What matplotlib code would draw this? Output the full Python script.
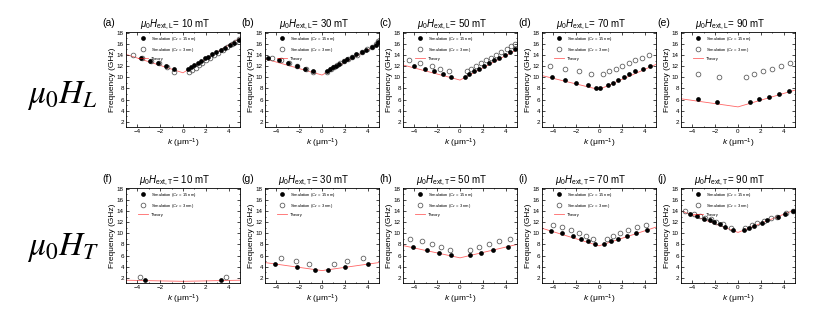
import numpy as np
import matplotlib
matplotlib.use('Agg')
import matplotlib.pyplot as plt
from matplotlib.ticker import MultipleLocator

plt.rcParams['font.family'] = ['Liberation Sans', 'DejaVu Sans']
plt.rcParams['mathtext.fontset'] = 'custom'
plt.rcParams['mathtext.rm'] = 'Liberation Sans'
plt.rcParams['mathtext.it'] = 'Liberation Sans:italic'

# ---- data (k in 1/um, f in GHz) ----
labels = ['(a)', '(b)', '(c)', '(d)', '(e)', '(f)', '(g)', '(h)', '(i)', '(j)']
fields = [10, 30, 50, 70, 90]

# (a) L, 10 mT
ka_15 = [-3.7, -2.9, -2.2, -1.5, -0.8, 0.4, 0.7, 1.0, 1.3, 1.6, 1.9, 2.2, 2.5, 2.9, 3.3, 3.7, 4.1, 4.5, 4.9]
fa_15 = [13.5, 13.0, 12.5, 12.0, 11.5, 11.5, 11.9, 12.2, 12.6, 13.0, 13.4, 13.7, 14.1, 14.5, 14.9, 15.3, 15.8, 16.2, 16.7]
ka_3 = [-4.4, -3.6, -2.8, -2.1, -1.4, -0.8, 0.5, 0.8, 1.1, 1.4, 1.7, 2.0, 2.4, 2.7, 3.1, 3.5, 3.9, 4.3, 4.6, 4.9]
fa_3 = [14.0, 13.5, 13.0, 12.5, 11.8, 11.0, 10.9, 11.3, 11.7, 12.2, 12.6, 13.1, 13.5, 14.0, 14.4, 14.9, 15.4, 15.9, 16.4, 16.9]
fa_th = [14.1, 10.8, 17.0]

# (b) L, 30 mT
kb_15 = [-4.7, -3.8, -3.0, -2.2, -1.5, -0.8, 0.4, 0.7, 1.0, 1.25, 1.5, 1.9, 2.2, 2.6, 3.0, 3.5, 3.9, 4.4, 4.7, 4.9]
fb_15 = [13.5, 13.05, 12.6, 12.0, 11.55, 11.07, 11.07, 11.5, 11.85, 12.1, 12.45, 12.9, 13.2, 13.6, 14.1, 14.5, 14.95, 15.4, 15.85, 16.3]
kb_3 = [-4.4, -3.6, -2.9, -2.2, -1.4, -0.8, 0.4, 0.75, 1.05, 1.3, 1.6, 1.95, 2.3, 2.65, 3.05, 3.5, 3.95, 4.4, 4.75, 4.9]
fb_3 = [13.5, 13.05, 12.5, 11.95, 11.5, 11.0, 11.0, 11.45, 11.8, 12.15, 12.5, 12.9, 13.25, 13.65, 14.05, 14.55, 15.0, 15.5, 15.9, 16.5]
fb_th = [13.3, 10.4, 16.0]

# (c) L, 50 mT
kc_15 = [-4.0, -3.04, -2.25, -1.5, -0.8, 0.45, 0.83, 1.26, 1.67, 2.1, 2.55, 3.0, 3.46, 3.93, 4.4, 4.85]
fc_15 = [12.03, 11.55, 11.07, 10.5, 10.06, 10.06, 10.5, 11.07, 11.55, 12.03, 12.5, 13.05, 13.5, 14.06, 14.5, 15.0]
kc_3 = [-4.5, -3.5, -2.5, -1.73, -0.94, 0.6, 1.0, 1.38, 1.8, 2.25, 2.7, 3.16, 3.6, 4.1, 4.5, 4.85]
fc_3 = [13.05, 12.57, 12.1, 11.55, 11.07, 11.07, 11.55, 12.1, 12.57, 13.05, 13.5, 14.06, 14.5, 15.0, 15.55, 16.0]
fc_th = [12.2, 9.5, 14.95]

# (d) L, 70 mT
kd_15 = [-4.1, -3.0, -2.0, -1.0, -0.26, 0.09, 0.75, 1.19, 1.68, 2.17, 2.67, 3.2, 3.86, 4.43]
fd_15 = [10.06, 9.58, 9.05, 8.57, 8.03, 8.03, 8.57, 9.05, 9.58, 10.06, 10.5, 11.07, 11.5, 12.03]
kd_3 = [-4.26, -3.0, -1.74, -0.7, 0.32, 0.9, 1.45, 2.0, 2.6, 3.19, 3.8, 4.38]
fd_3 = [12.03, 11.55, 11.07, 10.54, 10.54, 11.07, 11.55, 12.03, 12.57, 13.05, 13.5, 14.06]
fd_th = [10.3, 7.8, 12.3]

# (e) L, 90 mT
ke_15 = [-3.5, -1.83, 1.03, 1.8, 2.68, 3.57, 4.51]
fe_15 = [6.06, 5.52, 5.52, 6.06, 6.54, 7.01, 7.55]
ke_3 = [-3.5, -1.68, 0.74, 1.42, 2.15, 2.95, 3.77, 4.6]
fe_3 = [10.54, 10.06, 10.06, 10.54, 11.07, 11.55, 12.03, 12.57]
fe_th = [6.15, 4.7, 7.7]

# (f) T, 10 mT
kf_15 = [-3.33, 3.3]
ff_15 = [1.64, 1.64]
kf_3 = [-3.78, 3.8]
ff_3 = [2.12, 2.12]
ff_th = [1.6, 1.4, 1.6]

# (g) T, 30 mT
kg_15 = [-4.16, -2.15, -0.59, 0.5, 2.06, 4.04]
fg_15 = [4.52, 4.04, 3.5, 3.5, 4.04, 4.52]
kg_3 = [-3.63, -2.24, -1.12, 1.06, 2.18, 3.6]
fg_3 = [5.53, 5.06, 4.52, 4.52, 5.06, 5.53]
fg_th = [4.76, 3.32, 4.76]

# (h) T, 50 mT
kh_15 = [-4.15, -2.9, -1.8, -0.78, 0.9, 1.83, 2.93, 4.17]
fh_15 = [7.51, 7.03, 6.55, 6.07, 6.07, 6.55, 7.03, 7.51]
kh_3 = [-4.39, -3.37, -2.44, -1.63, -0.84, 0.9, 1.69, 2.5, 3.42, 4.4]
fh_3 = [9.0, 8.53, 8.05, 7.51, 7.03, 7.03, 7.51, 8.05, 8.53, 9.0]
fh_th = [7.8, 5.6, 8.0]

# (i) T, 70 mT
ki_15 = [-4.2, -3.25, -2.32, -1.59, -0.93, -0.35, 0.43, 1.01, 1.68, 2.43, 3.28, 4.2]
fi_15 = [10.45, 10.03, 9.49, 8.95, 8.53, 7.99, 7.99, 8.53, 8.95, 9.49, 10.03, 10.5]
ki_3 = [-4.07, -3.25, -2.46, -1.74, -1.13, -0.55, 0.67, 1.25, 1.88, 2.55, 3.36, 4.14]
fi_3 = [11.4, 11.05, 10.5, 10.03, 9.49, 8.95, 8.95, 9.49, 10.03, 10.5, 11.05, 11.53]
fi_th = [10.9, 7.75, 11.1]

# (j) T, 90 mT
kj_15 = [-4.19, -3.6, -3.0, -2.48, -2.12, -1.59, -1.15, -0.44, 0.53, 0.97, 1.42, 2.09, 2.53, 3.54, 4.16, 4.8]
fj_15 = [13.5, 13.08, 12.6, 12.3, 11.95, 11.6, 11.2, 10.5, 10.5, 11.0, 11.35, 11.9, 12.3, 12.9, 13.5, 13.9]
kj_3 = [-4.64, -3.9, -3.3, -2.87, -2.4, -1.9, -1.3, -0.65, 0.65, 1.2, 1.7, 2.3, 2.9, 3.4, 4.2, 4.8]
fj_3 = [13.98, 13.5, 13.1, 12.8, 12.5, 12.1, 11.6, 10.9, 10.9, 11.4, 11.8, 12.2, 12.7, 13.0, 13.6, 14.0]
fj_th = [14.0, 10.15, 14.2]

k_theory = [-5, 0, 5]

panels = [
    (ka_15, fa_15, ka_3, fa_3, fa_th), (kb_15, fb_15, kb_3, fb_3, fb_th),
    (kc_15, fc_15, kc_3, fc_3, fc_th), (kd_15, fd_15, kd_3, fd_3, fd_th),
    (ke_15, fe_15, ke_3, fe_3, fe_th), (kf_15, ff_15, kf_3, ff_3, ff_th),
    (kg_15, fg_15, kg_3, fg_3, fg_th), (kh_15, fh_15, kh_3, fh_3, fh_th),
    (ki_15, fi_15, ki_3, fi_3, fi_th), (kj_15, fj_15, kj_3, fj_3, fj_th),
]

fig = plt.figure(figsize=(8.23, 3.23), dpi=100)
W, H = 823, 323
lefts = [126, 265, 403, 542, 681]
tops = [32, 188]
aw, ah = 114, 95

for i, (k15, f15, k3, f3, fth) in enumerate(panels):
    row, col = divmod(i, 5)
    ax = fig.add_axes([lefts[col] / W, 1 - (tops[row] + ah) / H, aw / W, ah / H])
    ax.plot(k_theory, fth, color='red', lw=0.6, alpha=0.6, label='Theory', zorder=1)
    ax.plot(k15, f15, 'o', color='black', ms=3.4, mew=0, label='Simulation ($C_z$ = 15 nm)', zorder=3)
    ax.plot(k3, f3, 'o', mfc='none', mec='#555555', ms=3.4, mew=0.55, label='Simulation ($C_z$ = 3 nm)', zorder=2)
    ax.set_xlim(-5, 5)
    ax.set_ylim(1.1, 18.1)
    ax.xaxis.set_major_locator(MultipleLocator(2))
    ax.xaxis.set_minor_locator(MultipleLocator(1))
    ax.yaxis.set_major_locator(MultipleLocator(2))
    ax.yaxis.set_minor_locator(MultipleLocator(1))
    ax.set_yticks(range(2, 19, 2))
    ax.tick_params(which='both', direction='in', top=True, right=True, labelsize=4.5, pad=1.5, width=0.5)
    ax.tick_params(which='major', length=2)
    ax.tick_params(which='minor', length=1)
    for s in ax.spines.values():
        s.set_linewidth(0.6)
    ax.set_ylabel('Frequency (GHz)', fontsize=6, labelpad=1)
    ax.set_xlabel('$k$ (μm$^{-1}$)', fontsize=6, labelpad=2)
    sub = 'L' if row == 0 else 'T'
    ax.set_title(r'$\mu_0H_{\rm ext,%s}$= %d mT' % (sub, fields[col]), fontsize=7, pad=3, x=0.43)
    ax.text(-0.21, 1.045, labels[i], transform=ax.transAxes, fontsize=7.5, va='bottom')
    h, l = ax.get_legend_handles_labels()
    ax.legend([h[1], h[2], h[0]], [l[1], l[2], l[0]], loc='upper left', bbox_to_anchor=(0.08, 1.0),
              frameon=False, fontsize=3, handlelength=2.5, handletextpad=0.6, labelspacing=0.7,
              borderaxespad=0.3)

fig.text(27 / W, 1 - 103 / H, r'$\mu_0H_L$', fontsize=24, math_fontfamily='stix', va='baseline')
fig.text(27 / W, 1 - 255 / H, r'$\mu_0H_T$', fontsize=24, math_fontfamily='stix', va='baseline')

fig.savefig('out.png', dpi=100)
